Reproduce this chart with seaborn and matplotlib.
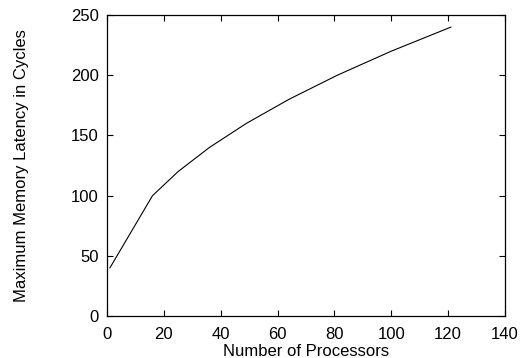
import matplotlib
matplotlib.use("Agg")
import matplotlib.pyplot as plt
import seaborn as sns
import pandas as pd

# processors vs max memory latency
processors = [1, 16, 25, 36, 49, 64, 81, 100, 121]
latency = [40, 100, 120, 140, 160, 180, 200, 220, 240]

df = pd.DataFrame({'procs': processors, 'latency': latency})

sns.set_style('ticks')
plt.rcParams['font.family'] = ['Liberation Sans', 'DejaVu Sans']
plt.rcParams['text.color'] = 'black'
plt.rcParams['axes.labelcolor'] = 'black'

fig = plt.figure(figsize=(5.29, 3.58), dpi=100)
ax = fig.add_axes([0.2023, 0.117, 0.7523, 0.841])
sns.lineplot(data=df, x='procs', y='latency', color='black', linewidth=0.8, ax=ax)

ax.set_xlim(0, 140)
ax.set_ylim(0, 250)
ax.set_xticks(range(0, 141, 20))
ax.set_yticks(range(0, 251, 50))
ax.tick_params(direction='in', length=4.5, width=0.8, top=True, right=True,
               labelsize=12, pad=6, colors='black')
ax.tick_params(axis='x', pad=8)
for s in ax.spines.values():
    s.set_visible(True)
    s.set_linewidth(0.9)
    s.set_color('black')
ax.set_xlabel('Number of Processors', fontsize=12, labelpad=1)
ax.set_ylabel('Maximum Memory Latency in Cycles', fontsize=12, labelpad=30)

fig.savefig('out.png', dpi=100)
